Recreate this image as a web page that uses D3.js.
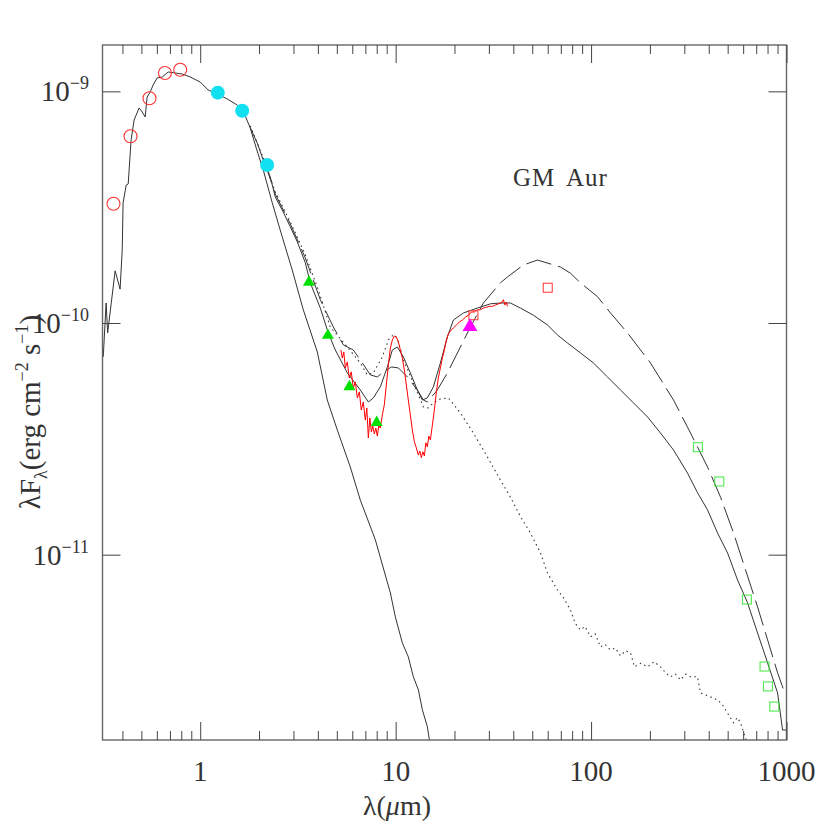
<!DOCTYPE html>
<html><head><meta charset="utf-8">
<script src="https://cdn.jsdelivr.net/npm/d3@7"></script>
<style>
body{margin:0;background:#fff}
text{font-family:"Liberation Serif","DejaVu Serif",serif;fill:#333}
</style>
</head><body>
<svg id="chart" width="830" height="830"></svg>
<script>
// ---------- data (λ in µm, λFλ in erg cm^-2 s^-1) ----------
const photosphere = [[0.319,7.14e-11],[0.330,1.22e-10],[0.336,9.06e-11],[0.367,1.68e-10],[0.389,1.40e-10],[0.399,2.07e-10],[0.403,3.30e-10],[0.418,3.94e-10],[0.428,3.98e-10],[0.443,6.17e-10],[0.459,7.52e-10],[0.487,8.48e-10],[0.505,8.14e-10],[0.523,7.75e-10],[0.535,9.45e-10],[0.555,9.94e-10],[0.574,1.065e-9],[0.602,1.142e-9],[0.639,1.153e-9],[0.686,1.212e-9],[0.745,1.200e-9],[0.809,1.188e-9],[0.889,1.153e-9],[1.0,1.097e-9],[1.099,1.013e-9],[1.222,9.74e-10],[1.375,9.27e-10],[1.547,8.73e-10],[1.660,8.22e-10],[1.803,6.95e-10],[1.935,5.69e-10],[2.102,4.57e-10],[2.337,3.30e-10],[2.630,2.35e-10],[2.959,1.69e-10],[3.369,1.14e-10],[3.973,7.50e-11],[4.469,4.65e-11],[5.030,3.45e-11],[5.861,2.39e-11],[6.595,1.72e-11],[7.870,1.16e-11],[9.395,6.84e-12],[9.965,5.39e-12],[10.82,4.16e-12],[11.61,3.62e-12],[12.32,2.97e-12],[13.07,2.61e-12],[13.70,2.14e-12],[14.53,1.81e-12],[14.88,1.59e-12],[15.4,1.30e-12]];

const totalModel = [[1.803,6.98e-10],[1.958,5.98e-10],[2.102,5.05e-10],[2.283,4.27e-10],[2.421,3.50e-10],[2.661,3.01e-10],[2.890,2.60e-10],[3.139,2.24e-10],[3.449,1.82e-10],[3.658,1.49e-10],[4.116,1.16e-10],[4.523,9.06e-11],[4.912,7.65e-11],[5.657,6.09e-11],[6.595,5.14e-11],[7.25,4.56e-11],[7.69,4.75e-11],[8.348,5.30e-11],[9.07,6.46e-11],[9.62,7.65e-11],[10.20,7.88e-11],[10.95,7.14e-11],[11.89,6.09e-11],[12.91,5.14e-11],[13.70,4.65e-11],[14.53,4.75e-11],[15.60,5.30e-11],[16.94,6.72e-11],[18.40,8.71e-11],[19.74,1.03e-10],[22.22,1.105e-10],[26.20,1.16e-10],[30.55,1.21e-10],[34.37,1.22e-10],[38.67,1.22e-10],[43.51,1.16e-10],[50.7,1.08e-10],[59.8,9.81e-11],[67.3,8.88e-11],[75.7,8.20e-11],[88.25,7.43e-11],[102.9,6.72e-11],[121.3,5.85e-11],[141.4,5.14e-11],[164.9,4.52e-11],[194.5,3.93e-11],[226.6,3.35e-11],[264.2,2.83e-11],[311.5,2.25e-11],[350.6,1.85e-11],[394.5,1.56e-11],[443.8,1.24e-11],[499.4,1.017e-11],[561.8,7.78e-12],[632.2,6.19e-12],[711.2,4.59e-12],[800.2,3.41e-12],[900.5,2.53e-12],[955,1.75e-12],[1000,1.75e-12]];

const dashedModel = [[2.102,5.16e-10],[2.421,3.60e-10],[2.890,2.68e-10],[3.449,1.91e-10],[4.116,1.26e-10],[4.80,9.61e-11],[5.40,8.04e-11],[6.07,7.65e-11],[6.595,6.93e-11],[7.420,5.97e-11],[8.06,5.85e-11],[8.55,6.09e-11],[9.51,6.46e-11],[10.32,6.40e-11],[11.48,5.85e-11],[12.91,5.14e-11],[13.87,4.65e-11],[14.53,4.56e-11],[16.35,5.14e-11],[18.40,6.09e-11],[21.45,7.88e-11],[24.13,9.61e-11],[28.12,1.22e-10],[34.37,1.49e-10],[37.32,1.58e-10],[45.08,1.78e-10],[53.17,1.87e-10],[69.70,1.745e-10],[78.43,1.64e-10],[88.25,1.49e-10],[107.8,1.30e-10],[125.7,1.105e-10],[153.6,9.06e-11],[179,7.65e-11],[201.4,6.72e-11],[264.2,4.65e-11],[322.8,3.35e-11],[394.5,2.39e-11],[459.8,1.77e-11],[535.9,1.24e-11],[617.5,8.59e-12],[711.2,5.95e-12],[800.2,4.29e-12],[900.5,3.09e-12],[966.5,2.61e-12],[1000,2.56e-12]];

const dottedModel = [[1.803,7.09e-10],[2.102,5.16e-10],[2.421,3.68e-10],[2.890,2.73e-10],[3.449,1.97e-10],[4.02,1.39e-10],[4.630,9.61e-11],[5.657,7.88e-11],[6.595,6.72e-11],[7.16,5.97e-11],[7.69,6.09e-11],[8.55,7.14e-11],[9.18,8.45e-11],[9.73,8.88e-11],[10.20,8.61e-11],[10.95,6.93e-11],[12.32,5.51e-11],[13.87,4.34e-11],[14.70,4.30e-11],[15.60,4.52e-11],[16.94,4.70e-11],[18.61,4.75e-11],[21.45,4.09e-11],[24.99,3.35e-11],[29.49,2.64e-11],[34.37,2.10e-11],[38.67,1.77e-11],[43.51,1.46e-11],[48.95,1.24e-11],[55.08,1.017e-11],[59.8,8.34e-12],[67.3,7.04e-12],[72.0,6.55e-12],[78.43,5.77e-12],[83.0,5.05e-12],[88.25,4.73e-12],[93.0,4.90e-12],[99.3,4.42e-12],[105,4.55e-12],[111.7,4.00e-12],[118,4.10e-12],[125.7,3.88e-12],[133,3.95e-12],[141.4,3.66e-12],[150,3.85e-12],[159.1,3.77e-12],[166.8,3.28e-12],[180,3.40e-12],[194.5,3.28e-12],[210,3.45e-12],[226.6,3.28e-12],[240,3.10e-12],[255.0,2.97e-12],[270,3.05e-12],[286.9,2.88e-12],[305,3.05e-12],[322.8,2.97e-12],[350.6,2.97e-12],[363.2,2.53e-12],[400,2.45e-12],[443.8,2.36e-12],[470,2.25e-12],[499.4,2.07e-12],[535.9,1.88e-12],[560,1.98e-12],[582.1,1.88e-12],[603,1.71e-12],[632,1.51e-12]];

const irsSpectrum = [[5.242,7.65e-11],[5.335,7.06e-11],[5.43,7.50e-11],[5.526,6.40e-11],[5.657,6.79e-11],[5.793,5.79e-11],[5.93,6.15e-11],[6.07,5.24e-11],[6.217,5.56e-11],[6.37,4.75e-11],[6.52,5.04e-11],[6.67,4.21e-11],[6.83,4.56e-11],[6.995,3.81e-11],[7.12,4.30e-11],[7.25,3.19e-11],[7.38,3.89e-11],[7.51,3.39e-11],[7.64,3.59e-11],[7.78,3.32e-11],[7.92,3.52e-11],[8.06,3.25e-11],[8.20,3.63e-11],[8.348,3.52e-11],[8.55,4.01e-11],[8.75,4.43e-11],[8.96,5.40e-11],[9.18,6.59e-11],[9.395,7.80e-11],[9.62,8.45e-11],[9.85,8.79e-11],[10.08,8.71e-11],[10.32,8.29e-11],[10.57,7.65e-11],[10.82,7.06e-11],[11.08,6.27e-11],[11.34,5.40e-11],[11.61,4.65e-11],[11.89,4.01e-11],[12.18,3.45e-11],[12.47,3.07e-11],[12.76,2.89e-11],[13.07,2.69e-11],[13.30,2.80e-11],[13.54,2.62e-11],[13.78,2.78e-11],[14.03,2.67e-11],[14.28,3.04e-11],[14.53,2.92e-11],[14.79,3.25e-11],[15.06,3.13e-11],[15.42,3.63e-11],[15.78,4.21e-11],[16.16,5.04e-11],[16.54,5.79e-11],[16.94,6.40e-11],[17.34,7.06e-11],[17.76,7.65e-11],[18.18,8.45e-11],[18.61,8.97e-11],[19.06,9.24e-11],[19.74,9.52e-11],[20.46,9.81e-11],[21.2,1.01e-10],[21.95,1.03e-10],[22.75,1.06e-10],[23.56,1.08e-10],[24.42,1.116e-10],[25.29,1.116e-10],[26.20,1.14e-10],[27.15,1.14e-10],[28.12,1.16e-10],[29.13,1.17e-10],[30.18,1.18e-10],[31.26,1.18e-10],[32.40,1.196e-10],[33.57,1.21e-10],[34.77,1.22e-10],[35.61,1.26e-10],[36.24,1.196e-10],[36.88,1.23e-10],[37.32,1.18e-10]];

const opticalPhot = [[0.36,3.27e-10],[0.44,6.4e-10],[0.55,9.33e-10],[0.66,1.2e-9],[0.79,1.24e-9]];
const twoMassPhot = [[1.23,9.87e-10],[1.64,8.25e-10],[2.2,4.81e-10]];
const iracPhot = [[3.6,1.5e-10],[4.5,8.85e-11],[5.8,5.31e-11],[8.0,3.72e-11]];
const mipsPhot = [[24,9.64e-11]];
const irasPhot = [[25,1.08e-10],[60,1.42e-10]];
const submmPhot = [[352,2.91e-11],[453,2.07e-11],[627,6.4e-12],[772,3.29e-12],[803,2.7e-12],[866,2.21e-12]];

const xMajorTicks = [1,10,100,1000];
const xTickLabels = ["1","10","100","1000"];
const xMinorTicks = [0.4,0.5,0.6,0.7,0.8,0.9,2,3,4,5,6,7,8,9,20,30,40,50,60,70,80,90,200,300,400,500,600,700,800,900];
const yMajorTicks = [1e-9,1e-10,1e-11];
const yTickExponents = ["−9","−10","−11"];
const objectNameWords = ["GM","Aur"];

// ---------- drawing ----------
const L=102.5, R=786.5, T=45, B=740;
const svg = d3.select("#chart");
const x = d3.scaleLog().domain([Math.pow(10,-0.5),1000]).range([L,R]);
const y = d3.scaleLog().domain([Math.pow(10,-11.8),Math.pow(10,-8.8)]).range([B,T]);

svg.append("defs").append("clipPath").attr("id","clip")
  .append("rect").attr("x",L).attr("y",T).attr("width",R-L).attr("height",B-T);

const line = d3.line().x(d=>x(d[0])).y(d=>y(d[1]));
const plot = svg.append("g").attr("clip-path","url(#clip)");

plot.append("path").datum(dottedModel).attr("d",line)
  .attr("fill","none").attr("stroke","#333").attr("stroke-width",1.1).attr("stroke-dasharray","1.5,3.5");
plot.append("path").datum(dashedModel).attr("d",line)
  .attr("fill","none").attr("stroke","#333").attr("stroke-width",1).attr("stroke-dasharray","26,7");
plot.append("path").datum(photosphere).attr("d",line)
  .attr("fill","none").attr("stroke","#333").attr("stroke-width",1);
plot.append("path").datum(totalModel).attr("d",line)
  .attr("fill","none").attr("stroke","#333").attr("stroke-width",1);
plot.append("path").datum(irsSpectrum).attr("d",line)
  .attr("fill","none").attr("stroke","#ff0000").attr("stroke-width",1);

// markers
plot.selectAll(".opt").data(opticalPhot).enter().append("circle")
  .attr("cx",d=>x(d[0])).attr("cy",d=>y(d[1])).attr("r",6.5)
  .attr("fill","none").attr("stroke","#ff3030").attr("stroke-width",1.1);
plot.selectAll(".tm").data(twoMassPhot).enter().append("circle")
  .attr("cx",d=>x(d[0])).attr("cy",d=>y(d[1])).attr("r",7)
  .attr("fill","#10e0f0");
plot.selectAll(".irac").data(iracPhot).enter().append("path")
  .attr("transform",d=>`translate(${x(d[0])},${y(d[1])})`)
  .attr("d",d3.symbol().type(d3.symbolTriangle).size(62)())
  .attr("fill","#00e000");
plot.selectAll(".iras").data(irasPhot).enter().append("rect")
  .attr("x",d=>x(d[0])-4.5).attr("y",d=>y(d[1])-4.5).attr("width",9).attr("height",9)
  .attr("fill","none").attr("stroke","#ff3030").attr("stroke-width",1);
plot.selectAll(".mips").data(mipsPhot).enter().append("path")
  .attr("transform",d=>`translate(${x(d[0])},${y(d[1])})`)
  .attr("d",d3.symbol().type(d3.symbolTriangle).size(95)())
  .attr("fill","#ff00ff");
plot.selectAll(".smm").data(submmPhot).enter().append("rect")
  .attr("x",d=>x(d[0])-4.5).attr("y",d=>y(d[1])-4.5).attr("width",9).attr("height",9)
  .attr("fill","none").attr("stroke","#40e840").attr("stroke-width",1);

// frame
svg.append("rect").attr("x",L).attr("y",T).attr("width",R-L).attr("height",B-T)
  .attr("fill","none").attr("stroke","#666").attr("stroke-width",1.4);

function strip(g){ g.select(".domain").remove(); g.selectAll(".tick line").attr("stroke","#444"); }
svg.append("g").attr("transform",`translate(0,${B})`)
  .call(d3.axisBottom(x).tickValues(xMinorTicks).tickSize(-9).tickFormat("")).call(strip);
svg.append("g").attr("transform",`translate(0,${B})`)
  .call(d3.axisBottom(x).tickValues(xMajorTicks).tickSize(-18).tickFormat("")).call(strip);
svg.append("g").attr("transform",`translate(0,${T})`)
  .call(d3.axisTop(x).tickValues(xMinorTicks).tickSize(-9).tickFormat("")).call(strip);
svg.append("g").attr("transform",`translate(0,${T})`)
  .call(d3.axisTop(x).tickValues(xMajorTicks).tickSize(-18).tickFormat("")).call(strip);
svg.append("g").attr("transform",`translate(${L},0)`)
  .call(d3.axisLeft(y).tickValues(yMajorTicks).tickSize(-18).tickFormat("")).call(strip);
svg.append("g").attr("transform",`translate(${R},0)`)
  .call(d3.axisRight(y).tickValues(yMajorTicks).tickSize(-18).tickFormat("")).call(strip);

// tick labels
svg.selectAll(".xl").data(xMajorTicks).enter().append("text")
  .attr("x",d=>x(d)).attr("y",781).attr("text-anchor","middle")
  .attr("font-size",29).text((d,i)=>xTickLabels[i]);
yMajorTicks.forEach((v,i)=>{
  const t = svg.append("text").attr("x",89).attr("y",y(v)+10).attr("text-anchor","end").attr("font-size",29);
  t.append("tspan").text("10");
  t.append("tspan").attr("font-size",18).attr("dy",-12).text(yTickExponents[i]);
});

// axis titles
const xt = svg.append("text").attr("x",397).attr("y",815).attr("text-anchor","middle").attr("font-size",28);
xt.append("tspan").text("λ(");
xt.append("tspan").attr("font-style","italic").text("μ");
xt.append("tspan").text("m)");

const yt = svg.append("text").attr("transform","translate(40,412) rotate(-90)")
  .attr("text-anchor","middle").attr("font-size",29);
yt.append("tspan").text("λF");
yt.append("tspan").attr("font-size",18).attr("dy",7).text("λ");
yt.append("tspan").attr("dy",-7).text("(erg cm");
yt.append("tspan").attr("font-size",18).attr("dy",-12).text("−2");
yt.append("tspan").attr("dy",12).text(" s");
yt.append("tspan").attr("font-size",18).attr("dy",-12).text("−1");
yt.append("tspan").attr("dy",12).text(")");

const name = svg.append("text").attr("y",186).attr("font-size",25).attr("letter-spacing",1);
name.append("tspan").attr("x",513).text(objectNameWords[0]);
name.append("tspan").attr("x",566).text(objectNameWords[1]);
</script>
</body></html>
